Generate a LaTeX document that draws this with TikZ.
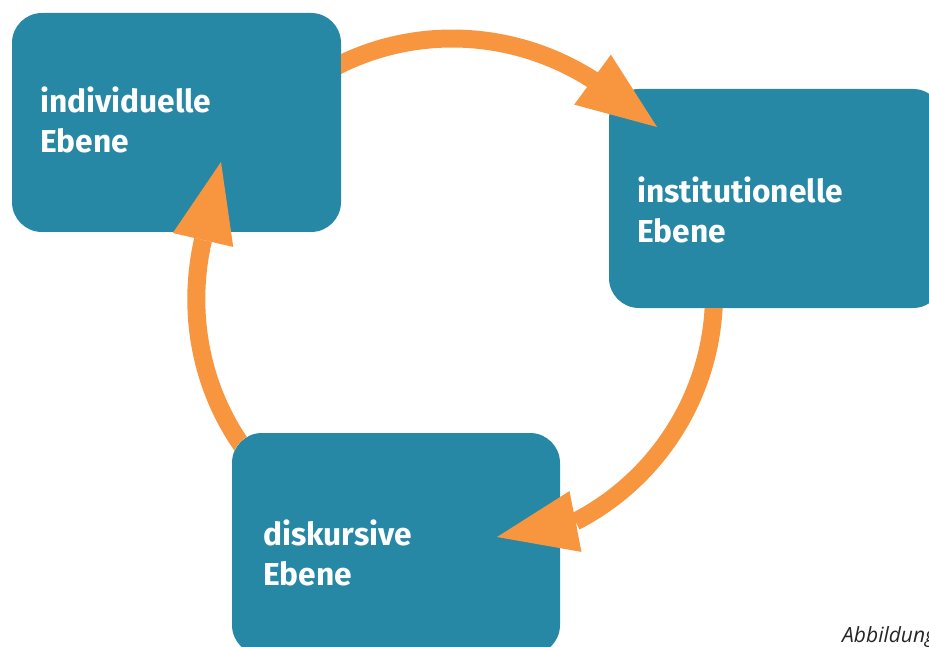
\documentclass[tikz,border=0pt]{standalone}
\usepackage{fontspec}
\setmainfont{Fira Sans}
\newfontfamily\capfont{Open Sans}
\usetikzlibrary{arrows.meta}
\definecolor{boxteal}{HTML}{2788A6}
\definecolor{arroworange}{HTML}{F7963F}
\begin{document}
\begin{tikzpicture}[x=1pt,y=-1pt,
  level/.style={rectangle, rounded corners=30pt, fill=boxteal, inner sep=0pt},
  lbl/.style={anchor=base west, align=left, text=white, inner sep=0pt,
    font=\bfseries\fontsize{31.7}{40}\selectfont},
  flowline/.style={draw=arroworange, line width=18pt, line join=round,
    -{Triangle[length=80pt,width=62pt,line width=0pt]}},
]
\useasboundingbox (0,0) rectangle (929,647);
\clip (0,0) rectangle (929,647);

% boxes
\node[level, minimum width=329pt, minimum height=219pt] (b1) at (176.5,122.5) {};
\node[level, minimum width=334pt, minimum height=219pt] (b2) at (776,198.5) {};
\node[level, minimum width=328pt, minimum height=222pt] (b3) at (396,544) {};

% labels (anchor = baseline of the last line)
\node[lbl] (l1) at (40,153) {individuelle\\Ebene};
\node[lbl] (l2) at (637,243) {institutionelle\\Ebene};
\node[lbl] (l3) at (263,585) {diskursive\\Ebene};

\node[anchor=base west, inner sep=0pt, text=black!85,
  font=\capfont\itshape\fontsize{21}{24}\selectfont] (cap) at (842,642) {Abbildung};

% connector coordinates
\coordinate (s1) at (324.5,72.7);
\coordinate (e1) at (593,80);
\coordinate (t1) at (657,127);
\coordinate (s2) at (714,294);
\coordinate (e2) at (575.4,521.5);
\coordinate (t2) at (497,537);
\coordinate (s3) at (255.6,463.5);
\coordinate (e3) at (203,240);
\coordinate (t3) at (221,162);

% individuelle -> institutionelle
\begin{scope}
\clip (-20,-20) -- (960,-20) -- (960,680) -- (-20,680) -- cycle
  (b1.north) [rounded corners=30pt] -- (b1.north west) -- (b1.south west) -- (b1.south east) -- (b1.north east) -- cycle;
\draw[flowline] (s1) .. controls (408.3,24.3) and (511.5,27.8) .. (e1) -- (t1);
\end{scope}

% institutionelle -> diskursive
\begin{scope}
\clip (-20,-20) -- (960,-20) -- (960,680) -- (-20,680) -- cycle
  (b2.north) [rounded corners=30pt] -- (b2.north west) -- (b2.south west) -- (b2.south east) -- (b2.north east) -- cycle;
\draw[flowline] (s2) .. controls (714,389.8) and (660.5,477.6) .. (e2) -- (t2);
\end{scope}

% diskursive -> individuelle
\begin{scope}
\clip (-20,-20) -- (960,-20) -- (960,680) -- (-20,680) -- cycle
  (b3.north) [rounded corners=30pt] -- (b3.north west) -- (b3.south west) -- (b3.south east) -- (b3.north east) -- cycle;
\draw[flowline] (s3) .. controls (203.5,401.5) and (185,319) .. (e3) -- (t3);
\end{scope}
\end{tikzpicture}
\end{document}
